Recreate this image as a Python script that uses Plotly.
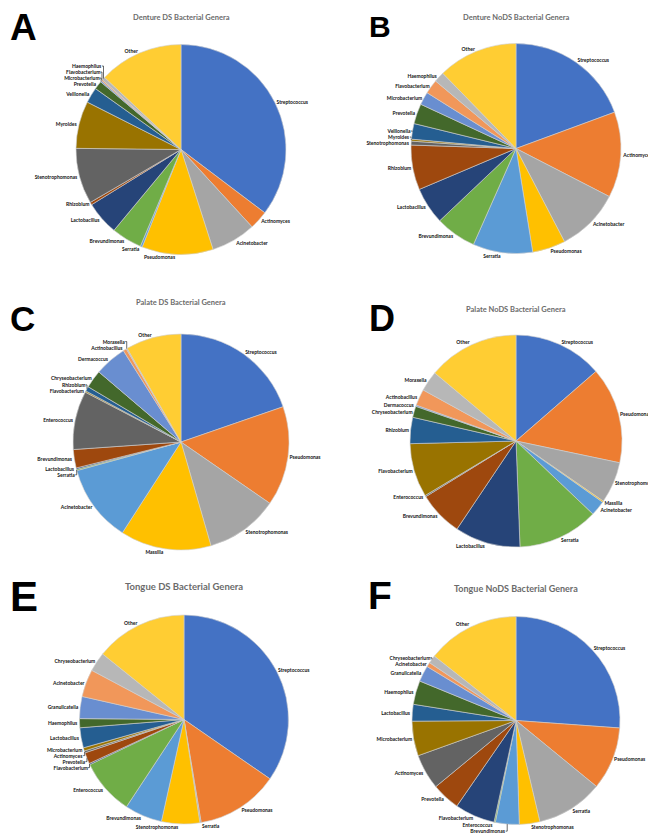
import plotly.graph_objects as go

PAL = ["#4472C4", "#ED7D31", "#A5A5A5", "#FFC000", "#5B9BD5", "#70AD47",
       "#264478", "#9E480E", "#636363", "#997300", "#255E91", "#43682B",
       "#698ED0", "#F1975A", "#B7B7B7", "#FFCD33"]

# Panel A: Denture DS
a_labels = ["Streptococcus", "Actinomyces", "Acinetobacter", "Pseudomonas", "Serratia",
            "Brevundimonas", "Lactobacillus", "Rhizobium", "Stenotrophomonas", "Myroides",
            "Veillonella", "Prevotella", "Microbacterium", "Flavobacterium", "Haemophilus", "Other"]
a_values = [35.4, 2.9, 6.9, 11.0, 0.3, 4.7, 5.2, 0.4, 8.6, 7.3, 2.4, 1.3, 0.2, 0.2, 0.5, 13.0]

# Panel B: Denture NoDS
b_labels = ["Streptococcus", "Actinomyces", "Acinetobacter", "Pseudomonas", "Serratia",
            "Brevundimonas", "Lactobacillus", "Rhizobium", "Stenotrophomonas", "Myroides",
            "Veillonella", "Prevotella", "Microbacterium", "Flavobacterium", "Haemophilus", "Other"]
b_values = [19.4, 13.2, 9.8, 5.1, 9.2, 6.3, 5.7, 6.9, 0.6, 0.3, 2.4, 3.1, 2.0, 2.2, 1.6, 12.3]

# Panel C: Palate DS
c_labels = ["Streptococcus", "Pseudomonas", "Stenotrophomonas", "Massilia", "Acinetobacter",
            "Serratia", "Lactobacillus", "Brevundimonas", "Enterococcus", "Flavobacterium",
            "Rhizobium", "Chryseobacterium", "Dermacoccus", "Actinobacillus", "Moraxella", "Other"]
c_values = [19.7, 14.9, 10.9, 13.6, 11.6, 0.2, 0.2, 2.75, 8.75, 0.2, 0.7, 2.7, 4.8, 0.5, 0.15, 8.3]

# Panel D: Palate NoDS
d_labels = ["Streptococcus", "Pseudomonas", "Stenotrophomonas", "Massilia", "Acinetobacter",
            "Serratia", "Lactobacillus", "Brevundimonas", "Enterococcus", "Flavobacterium",
            "Rhizobium", "Chryseobacterium", "Dermacoccus", "Actinobacillus", "Moraxella", "Other"]
d_values = [13.6, 14.7, 6.3, 0.2, 2.3, 12.3, 10.0, 6.8, 0.2, 8.2, 4.0, 1.7, 0.2, 2.5, 3.1, 13.9]

# Panel E: Tongue DS
e_labels = ["Streptococcus", "Pseudomonas", "Serratia", "Stenotrophomonas", "Brevundimonas",
            "Enterococcus", "Flavobacterium", "Prevotella", "Actinomyces", "Microbacterium",
            "Lactobacillus", "Haemophilus", "Granulicatella", "Acinetobacter", "Chryseobacterium", "Other"]
e_values = [34.6, 12.75, 0.2, 5.9, 5.8, 8.6, 0.2, 1.75, 0.3, 0.5, 3.1, 1.4, 3.4, 4.25, 3.0, 14.2]

# Panel F: Tongue NoDS
f_labels = ["Streptococcus", "Pseudomonas", "Serratia", "Stenotrophomonas", "Brevundimonas",
            "Enterococcus", "Flavobacterium", "Prevotella", "Actinomyces", "Microbacterium",
            "Lactobacillus", "Haemophilus", "Granulicatella", "Acinetobacter", "Chryseobacterium", "Other"]
f_values = [26.2, 9.8, 10.4, 3.2, 3.7, 0.2, 6.25, 4.4, 5.5, 5.4, 2.6, 3.7, 2.5, 0.7, 1.25, 14.4]

titles = ["Denture DS Bacterial Genera", "Denture NoDS Bacterial Genera",
          "Palate DS Bacterial Genera", "Palate NoDS Bacterial Genera",
          "Tongue DS Bacterial Genera", "Tongue NoDS Bacterial Genera"]
letters = ["A", "B", "C", "D", "E", "F"]

W, H = 656, 835
# pie centers (px) and radii
panels = [
    (a_labels, a_values, 173, 141.5, 105),
    (b_labels, b_values, 508, 140.5, 105),
    (c_labels, c_values, 173, 434, 108),
    (d_labels, d_values, 508, 433, 106),
    (e_labels, e_values, 176, 711.5, 104.5),
    (f_labels, f_values, 508, 712.5, 104),
]

fig = go.Figure()
for labels, values, cx, cy, r in panels:
    fig.add_trace(go.Pie(
        labels=labels, values=values, sort=False, direction="clockwise", rotation=0,
        marker=dict(colors=PAL, line=dict(color="#D0D0D0", width=0.6)),
        texttemplate="<b>%{label}</b>", textposition="outside",
        textfont=dict(size=5, color="#111111", family="Lato"),
        showlegend=False, hoverinfo="label+value",
        domain=dict(x=[(cx - r) / W, (cx + r) / W], y=[1 - (cy + r) / H, 1 - (cy - r) / H]),
    ))

title_pos = [(173, 10, 7.5), (508, 10, 7.5), (173, 294, 7.5), (508, 301, 7.5),
             (176, 578, 9.5), (508, 580, 9)]
letter_pos = [(0, 19, 37), (359, 18, 30), (0, 310, 35), (359, 310, 36), (0, 588, 42), (358, 587, 39)]

ann = []
for t, (x, y, s) in zip(titles, title_pos):
    ann.append(dict(text="<b>" + t + "</b>", x=x / W, y=1 - y / H, xref="paper", yref="paper",
                    xanchor="center", yanchor="middle", showarrow=False,
                    font=dict(size=s, color="#6b6b6b", family="Lato")))
for t, (x, y, s) in zip(letters, letter_pos):
    ann.append(dict(text="<b>" + t + "</b>", x=x / W, y=1 - y / H, xref="paper", yref="paper",
                    xanchor="left", yanchor="middle", showarrow=False,
                    font=dict(size=s, color="black", family="Liberation Sans")))

fig.update_layout(width=W, height=H, margin=dict(l=0, r=0, t=0, b=0),
                  paper_bgcolor="white", plot_bgcolor="white", annotations=ann)
fig.write_html("out.html")
